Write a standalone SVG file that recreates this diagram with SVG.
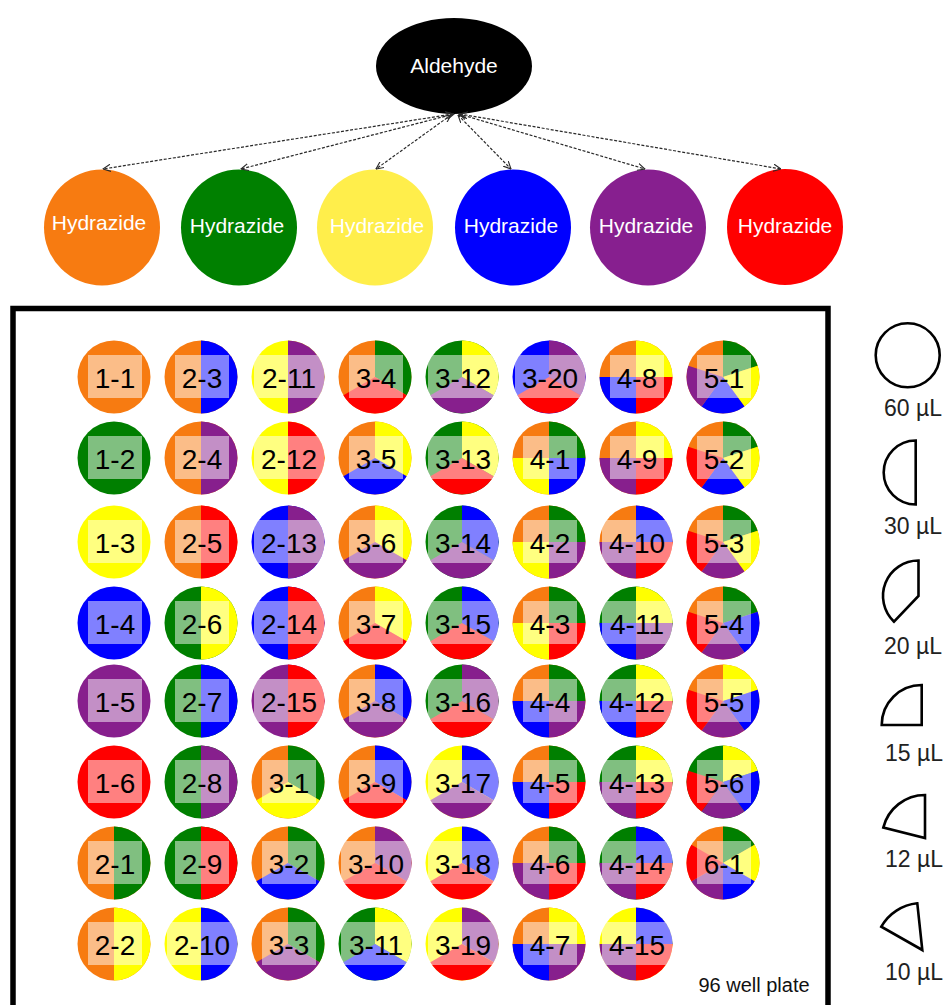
<svg xmlns="http://www.w3.org/2000/svg" xmlns:xlink="http://www.w3.org/1999/xlink" width="949" height="1005" viewBox="0 0 949 1005">
<style>
.O{fill:#F77B11}.G{fill:#007F00}.Y{fill:#FFFF00}.B{fill:#0000FF}.P{fill:#871F8D}.R{fill:#FF0000}
.ov{fill:#FFFFFF;fill-opacity:0.5}
#wells text{font-family:"Liberation Sans",Arial,sans-serif;font-size:28px;text-anchor:middle;fill:#000}
.ht{font-family:"Liberation Sans",Arial,sans-serif;font-size:21px;text-anchor:middle;fill:#FFFFFF}
.lg{fill:#FFFFFF;stroke:#000;stroke-width:2.6;stroke-linejoin:miter}
.lt{font-family:"Liberation Sans",Arial,sans-serif;font-size:23px;text-anchor:middle;fill:#222}
.con{fill:none;stroke:#2a2a2a;stroke-width:1.2;stroke-dasharray:3 1.6}
</style>
<defs>
<marker id="ah" viewBox="0 0 10 10" refX="9.5" refY="5" markerWidth="8" markerHeight="8" markerUnits="userSpaceOnUse" orient="auto-start-reverse">
<path d="M0,0.5 L9.5,5 L0,9.5" fill="none" stroke="#2a2a2a" stroke-width="1.4"/>
</marker>
<circle id="c" r="36.5"/>
<path id="h2" d="M0,0 L0,-36.5 A36.5,36.5 0 0 1 0,36.5 Z"/>
<path id="t2" d="M0,0 L0,-36.5 A36.5,36.5 0 0 1 31.61,18.25 Z"/>
<path id="t3" d="M0,0 L31.61,18.25 A36.5,36.5 0 0 1 -31.61,18.25 Z"/>
<path id="q2" d="M0,0 L0,-36.5 A36.5,36.5 0 0 1 36.5,0 Z"/>
<path id="q3" d="M0,0 L0,36.5 A36.5,36.5 0 0 1 -36.5,0 Z"/>
<path id="q4" d="M0,0 L36.5,0 A36.5,36.5 0 0 1 0,36.5 Z"/>
<path id="f2" d="M0,0 L0,-36.5 A36.5,36.5 0 0 1 34.71,-11.28 Z"/>
<path id="f3" d="M0,0 L34.71,-11.28 A36.5,36.5 0 0 1 21.45,29.53 Z"/>
<path id="f4" d="M0,0 L21.45,29.53 A36.5,36.5 0 0 1 -21.45,29.53 Z"/>
<path id="f5" d="M0,0 L-21.45,29.53 A36.5,36.5 0 0 1 -34.71,-11.28 Z"/>
<path id="x2" d="M0,0 L0,-36.5 A36.5,36.5 0 0 1 31.61,-18.25 Z"/>
<path id="x3" d="M0,0 L31.61,-18.25 A36.5,36.5 0 0 1 31.61,18.25 Z"/>
<path id="x4" d="M0,0 L31.61,18.25 A36.5,36.5 0 0 1 0,36.5 Z"/>
<path id="x5" d="M0,0 L0,36.5 A36.5,36.5 0 0 1 -31.61,18.25 Z"/>
<path id="x6" d="M0,0 L-31.61,18.25 A36.5,36.5 0 0 1 -31.61,-18.25 Z"/>
<rect id="r3" x="-26" y="-22" width="54" height="43"/>
<rect id="r4" x="-34" y="-22" width="70" height="43"/>
</defs>

<rect width="949" height="1005" fill="#FFFFFF"/>

<g id="aldehyde">
<ellipse cx="454" cy="66" rx="78" ry="48" fill="#000"/>
<text x="454" y="73" class="ht">Aldehyde</text>
</g>

<g id="hydrazide-orange"><circle cx="102" cy="227.5" r="58" fill="#F77B11"/><text x="99" y="230" class="ht">Hydrazide</text></g>
<g id="hydrazide-green"><circle cx="239" cy="227.5" r="58" fill="#008000"/><text x="237" y="233" class="ht">Hydrazide</text></g>
<g id="hydrazide-yellow"><circle cx="375" cy="227.5" r="58" fill="#FFEE4B"/><text x="377" y="233" class="ht">Hydrazide</text></g>
<g id="hydrazide-blue"><circle cx="513" cy="227.5" r="58" fill="#0000FF"/><text x="511" y="233" class="ht">Hydrazide</text></g>
<g id="hydrazide-purple"><circle cx="648" cy="227.5" r="58" fill="#871F8F"/><text x="646" y="233" class="ht">Hydrazide</text></g>
<g id="hydrazide-red"><circle cx="785" cy="227" r="58" fill="#FF0000"/><text x="785" y="233" class="ht">Hydrazide</text></g>

<g id="connectors">
<line class="con" x1="453" y1="114" x2="103" y2="169" marker-start="url(#ah)" marker-end="url(#ah)"/>
<line class="con" x1="454" y1="114" x2="241" y2="169" marker-start="url(#ah)" marker-end="url(#ah)"/>
<line class="con" x1="451" y1="115" x2="376" y2="169" marker-start="url(#ah)" marker-end="url(#ah)"/>
<line class="con" x1="458" y1="115" x2="511" y2="169" marker-start="url(#ah)" marker-end="url(#ah)"/>
<line class="con" x1="459" y1="114" x2="645" y2="169" marker-start="url(#ah)" marker-end="url(#ah)"/>
<line class="con" x1="460" y1="114" x2="781" y2="169" marker-start="url(#ah)" marker-end="url(#ah)"/>
</g>

<g id="plate">
<rect x="13" y="308.5" width="815" height="720" fill="none" stroke="#000" stroke-width="5.5"/>
<text x="754" y="992" style="font-family:'Liberation Sans',Arial,sans-serif;font-size:20px;text-anchor:middle;fill:#111">96 well plate</text>
</g>

<g id="wells">
<g id="w1-1" transform="translate(114,377)"><use href="#c" class="O"/><use href="#r3" class="ov"/><text x="1" y="10.5">1-1</text></g>
<g id="w1-2" transform="translate(114,458)"><use href="#c" class="G"/><use href="#r3" class="ov"/><text x="1" y="10.5">1-2</text></g>
<g id="w1-3" transform="translate(114,542)"><use href="#c" class="Y"/><use href="#r3" class="ov"/><text x="1" y="10.5">1-3</text></g>
<g id="w1-4" transform="translate(114,623)"><use href="#c" class="B"/><use href="#r3" class="ov"/><text x="1" y="10.5">1-4</text></g>
<g id="w1-5" transform="translate(114,701)"><use href="#c" class="P"/><use href="#r3" class="ov"/><text x="1" y="10.5">1-5</text></g>
<g id="w1-6" transform="translate(114,782)"><use href="#c" class="R"/><use href="#r3" class="ov"/><text x="1" y="10.5">1-6</text></g>
<g id="w2-1" transform="translate(114,863)"><use href="#c" class="O"/><use href="#h2" class="G"/><use href="#r3" class="ov"/><text x="1" y="10.5">2-1</text></g>
<g id="w2-2" transform="translate(114,944)"><use href="#c" class="O"/><use href="#h2" class="Y"/><use href="#r3" class="ov"/><text x="1" y="10.5">2-2</text></g>

<g id="w2-3" transform="translate(201,377)"><use href="#c" class="O"/><use href="#h2" class="B"/><use href="#r3" class="ov"/><text x="1" y="10.5">2-3</text></g>
<g id="w2-4" transform="translate(201,458)"><use href="#c" class="O"/><use href="#h2" class="P"/><use href="#r3" class="ov"/><text x="1" y="10.5">2-4</text></g>
<g id="w2-5" transform="translate(201,542)"><use href="#c" class="O"/><use href="#h2" class="R"/><use href="#r3" class="ov"/><text x="1" y="10.5">2-5</text></g>
<g id="w2-6" transform="translate(201,623)"><use href="#c" class="G"/><use href="#h2" class="Y"/><use href="#r3" class="ov"/><text x="1" y="10.5">2-6</text></g>
<g id="w2-7" transform="translate(201,701)"><use href="#c" class="G"/><use href="#h2" class="B"/><use href="#r3" class="ov"/><text x="1" y="10.5">2-7</text></g>
<g id="w2-8" transform="translate(201,782)"><use href="#c" class="G"/><use href="#h2" class="P"/><use href="#r3" class="ov"/><text x="1" y="10.5">2-8</text></g>
<g id="w2-9" transform="translate(201,863)"><use href="#c" class="G"/><use href="#h2" class="R"/><use href="#r3" class="ov"/><text x="1" y="10.5">2-9</text></g>
<g id="w2-10" transform="translate(201,944)"><use href="#c" class="Y"/><use href="#h2" class="B"/><use href="#r4" class="ov"/><text x="1" y="10.5">2-10</text></g>

<g id="w2-11" transform="translate(288,377)"><use href="#c" class="Y"/><use href="#h2" class="P"/><use href="#r4" class="ov"/><text x="1" y="10.5">2-11</text></g>
<g id="w2-12" transform="translate(288,458)"><use href="#c" class="Y"/><use href="#h2" class="R"/><use href="#r4" class="ov"/><text x="1" y="10.5">2-12</text></g>
<g id="w2-13" transform="translate(288,542)"><use href="#c" class="B"/><use href="#h2" class="P"/><use href="#r4" class="ov"/><text x="1" y="10.5">2-13</text></g>
<g id="w2-14" transform="translate(288,623)"><use href="#c" class="B"/><use href="#h2" class="R"/><use href="#r4" class="ov"/><text x="1" y="10.5">2-14</text></g>
<g id="w2-15" transform="translate(288,701)"><use href="#c" class="P"/><use href="#h2" class="R"/><use href="#r4" class="ov"/><text x="1" y="10.5">2-15</text></g>
<g id="w3-1" transform="translate(288,782)"><use href="#c" class="O"/><use href="#t2" class="G"/><use href="#t3" class="Y"/><use href="#r3" class="ov"/><text x="1" y="10.5">3-1</text></g>
<g id="w3-2" transform="translate(288,863)"><use href="#c" class="O"/><use href="#t2" class="G"/><use href="#t3" class="B"/><use href="#r3" class="ov"/><text x="1" y="10.5">3-2</text></g>
<g id="w3-3" transform="translate(288,944)"><use href="#c" class="O"/><use href="#t2" class="G"/><use href="#t3" class="P"/><use href="#r3" class="ov"/><text x="1" y="10.5">3-3</text></g>

<g id="w3-4" transform="translate(375,377)"><use href="#c" class="O"/><use href="#t2" class="G"/><use href="#t3" class="R"/><use href="#r3" class="ov"/><text x="1" y="10.5">3-4</text></g>
<g id="w3-5" transform="translate(375,458)"><use href="#c" class="O"/><use href="#t2" class="Y"/><use href="#t3" class="B"/><use href="#r3" class="ov"/><text x="1" y="10.5">3-5</text></g>
<g id="w3-6" transform="translate(375,542)"><use href="#c" class="O"/><use href="#t2" class="Y"/><use href="#t3" class="P"/><use href="#r3" class="ov"/><text x="1" y="10.5">3-6</text></g>
<g id="w3-7" transform="translate(375,623)"><use href="#c" class="O"/><use href="#t2" class="Y"/><use href="#t3" class="R"/><use href="#r3" class="ov"/><text x="1" y="10.5">3-7</text></g>
<g id="w3-8" transform="translate(375,701)"><use href="#c" class="O"/><use href="#t2" class="B"/><use href="#t3" class="P"/><use href="#r3" class="ov"/><text x="1" y="10.5">3-8</text></g>
<g id="w3-9" transform="translate(375,782)"><use href="#c" class="O"/><use href="#t2" class="B"/><use href="#t3" class="R"/><use href="#r3" class="ov"/><text x="1" y="10.5">3-9</text></g>
<g id="w3-10" transform="translate(375,863)"><use href="#c" class="O"/><use href="#t2" class="P"/><use href="#t3" class="R"/><use href="#r4" class="ov"/><text x="1" y="10.5">3-10</text></g>
<g id="w3-11" transform="translate(375,944)"><use href="#c" class="G"/><use href="#t2" class="Y"/><use href="#t3" class="B"/><use href="#r4" class="ov"/><text x="1" y="10.5">3-11</text></g>

<g id="w3-12" transform="translate(462,377)"><use href="#c" class="G"/><use href="#t2" class="Y"/><use href="#t3" class="P"/><use href="#r4" class="ov"/><text x="1" y="10.5">3-12</text></g>
<g id="w3-13" transform="translate(462,458)"><use href="#c" class="G"/><use href="#t2" class="Y"/><use href="#t3" class="R"/><use href="#r4" class="ov"/><text x="1" y="10.5">3-13</text></g>
<g id="w3-14" transform="translate(462,542)"><use href="#c" class="G"/><use href="#t2" class="B"/><use href="#t3" class="P"/><use href="#r4" class="ov"/><text x="1" y="10.5">3-14</text></g>
<g id="w3-15" transform="translate(462,623)"><use href="#c" class="G"/><use href="#t2" class="B"/><use href="#t3" class="R"/><use href="#r4" class="ov"/><text x="1" y="10.5">3-15</text></g>
<g id="w3-16" transform="translate(462,701)"><use href="#c" class="G"/><use href="#t2" class="P"/><use href="#t3" class="R"/><use href="#r4" class="ov"/><text x="1" y="10.5">3-16</text></g>
<g id="w3-17" transform="translate(462,782)"><use href="#c" class="Y"/><use href="#t2" class="B"/><use href="#t3" class="P"/><use href="#r4" class="ov"/><text x="1" y="10.5">3-17</text></g>
<g id="w3-18" transform="translate(462,863)"><use href="#c" class="Y"/><use href="#t2" class="B"/><use href="#t3" class="R"/><use href="#r4" class="ov"/><text x="1" y="10.5">3-18</text></g>
<g id="w3-19" transform="translate(462,944)"><use href="#c" class="Y"/><use href="#t2" class="P"/><use href="#t3" class="R"/><use href="#r4" class="ov"/><text x="1" y="10.5">3-19</text></g>

<g id="w3-20" transform="translate(549,377)"><use href="#c" class="B"/><use href="#t2" class="P"/><use href="#t3" class="R"/><use href="#r4" class="ov"/><text x="1" y="10.5">3-20</text></g>
<g id="w4-1" transform="translate(549,458)"><use href="#c" class="O"/><use href="#q2" class="G"/><use href="#q3" class="Y"/><use href="#q4" class="B"/><use href="#r3" class="ov"/><text x="1" y="10.5">4-1</text></g>
<g id="w4-2" transform="translate(549,542)"><use href="#c" class="O"/><use href="#q2" class="G"/><use href="#q3" class="Y"/><use href="#q4" class="P"/><use href="#r3" class="ov"/><text x="1" y="10.5">4-2</text></g>
<g id="w4-3" transform="translate(549,623)"><use href="#c" class="O"/><use href="#q2" class="G"/><use href="#q3" class="Y"/><use href="#q4" class="R"/><use href="#r3" class="ov"/><text x="1" y="10.5">4-3</text></g>
<g id="w4-4" transform="translate(549,701)"><use href="#c" class="O"/><use href="#q2" class="G"/><use href="#q3" class="B"/><use href="#q4" class="P"/><use href="#r3" class="ov"/><text x="1" y="10.5">4-4</text></g>
<g id="w4-5" transform="translate(549,782)"><use href="#c" class="O"/><use href="#q2" class="G"/><use href="#q3" class="B"/><use href="#q4" class="R"/><use href="#r3" class="ov"/><text x="1" y="10.5">4-5</text></g>
<g id="w4-6" transform="translate(549,863)"><use href="#c" class="O"/><use href="#q2" class="G"/><use href="#q3" class="P"/><use href="#q4" class="R"/><use href="#r3" class="ov"/><text x="1" y="10.5">4-6</text></g>
<g id="w4-7" transform="translate(549,944)"><use href="#c" class="O"/><use href="#q2" class="Y"/><use href="#q3" class="B"/><use href="#q4" class="P"/><use href="#r3" class="ov"/><text x="1" y="10.5">4-7</text></g>

<g id="w4-8" transform="translate(636,377)"><use href="#c" class="O"/><use href="#q2" class="Y"/><use href="#q3" class="B"/><use href="#q4" class="R"/><use href="#r3" class="ov"/><text x="1" y="10.5">4-8</text></g>
<g id="w4-9" transform="translate(636,458)"><use href="#c" class="O"/><use href="#q2" class="Y"/><use href="#q3" class="P"/><use href="#q4" class="R"/><use href="#r3" class="ov"/><text x="1" y="10.5">4-9</text></g>
<g id="w4-10" transform="translate(636,542)"><use href="#c" class="O"/><use href="#q2" class="B"/><use href="#q3" class="P"/><use href="#q4" class="R"/><use href="#r4" class="ov"/><text x="1" y="10.5">4-10</text></g>
<g id="w4-11" transform="translate(636,623)"><use href="#c" class="G"/><use href="#q2" class="Y"/><use href="#q3" class="B"/><use href="#q4" class="P"/><use href="#r4" class="ov"/><text x="1" y="10.5">4-11</text></g>
<g id="w4-12" transform="translate(636,701)"><use href="#c" class="G"/><use href="#q2" class="Y"/><use href="#q3" class="B"/><use href="#q4" class="R"/><use href="#r4" class="ov"/><text x="1" y="10.5">4-12</text></g>
<g id="w4-13" transform="translate(636,782)"><use href="#c" class="G"/><use href="#q2" class="Y"/><use href="#q3" class="P"/><use href="#q4" class="R"/><use href="#r4" class="ov"/><text x="1" y="10.5">4-13</text></g>
<g id="w4-14" transform="translate(636,863)"><use href="#c" class="G"/><use href="#q2" class="B"/><use href="#q3" class="P"/><use href="#q4" class="R"/><use href="#r4" class="ov"/><text x="1" y="10.5">4-14</text></g>
<g id="w4-15" transform="translate(636,944)"><use href="#c" class="Y"/><use href="#q2" class="B"/><use href="#q3" class="P"/><use href="#q4" class="R"/><use href="#r4" class="ov"/><text x="1" y="10.5">4-15</text></g>

<g id="w5-1" transform="translate(723,377)"><use href="#c" class="O"/><use href="#f2" class="G"/><use href="#f3" class="Y"/><use href="#f4" class="B"/><use href="#f5" class="P"/><use href="#r3" class="ov"/><text x="1" y="10.5">5-1</text></g>
<g id="w5-2" transform="translate(723,458)"><use href="#c" class="O"/><use href="#f2" class="G"/><use href="#f3" class="Y"/><use href="#f4" class="B"/><use href="#f5" class="R"/><use href="#r3" class="ov"/><text x="1" y="10.5">5-2</text></g>
<g id="w5-3" transform="translate(723,542)"><use href="#c" class="O"/><use href="#f2" class="G"/><use href="#f3" class="Y"/><use href="#f4" class="P"/><use href="#f5" class="R"/><use href="#r3" class="ov"/><text x="1" y="10.5">5-3</text></g>
<g id="w5-4" transform="translate(723,623)"><use href="#c" class="O"/><use href="#f2" class="G"/><use href="#f3" class="B"/><use href="#f4" class="P"/><use href="#f5" class="R"/><use href="#r3" class="ov"/><text x="1" y="10.5">5-4</text></g>
<g id="w5-5" transform="translate(723,701)"><use href="#c" class="O"/><use href="#f2" class="Y"/><use href="#f3" class="B"/><use href="#f4" class="P"/><use href="#f5" class="R"/><use href="#r3" class="ov"/><text x="1" y="10.5">5-5</text></g>
<g id="w5-6" transform="translate(723,782)"><use href="#c" class="G"/><use href="#f2" class="Y"/><use href="#f3" class="B"/><use href="#f4" class="P"/><use href="#f5" class="R"/><use href="#r3" class="ov"/><text x="1" y="10.5">5-6</text></g>
<g id="w6-1" transform="translate(723,863)"><use href="#c" class="O"/><use href="#x2" class="G"/><use href="#x3" class="Y"/><use href="#x4" class="B"/><use href="#x5" class="P"/><use href="#x6" class="R"/><use href="#r3" class="ov"/><text x="1" y="10.5">6-1</text></g>
</g>

<g id="legend">
<g id="leg-60"><circle class="lg" cx="907.7" cy="355.3" r="32"/><text class="lt" x="913" y="416">60 µL</text></g>
<g id="leg-30"><path class="lg" d="M915.7,440.5 A32,32 0 0 0 915.7,504.5 Z"/><text class="lt" x="913" y="534">30 µL</text></g>
<g id="leg-20"><path class="lg" d="M918.5,596 L918.5,560.5 A35.5,35.5 0 0 0 894,621.7 Z"/><text class="lt" x="913" y="654">20 µL</text></g>
<g id="leg-15"><path class="lg" d="M921.7,725 L921.7,685 A40,40 0 0 0 881.7,725 Z"/><text class="lt" x="914" y="761">15 µL</text></g>
<g id="leg-12"><path class="lg" d="M925,838 L925,795 A43,43 0 0 0 883.3,827.6 Z"/><text class="lt" x="914" y="867">12 µL</text></g>
<g id="leg-10"><path class="lg" d="M922.3,950 L917.3,903.3 A47,47 0 0 0 881.3,926.7 Z"/><text class="lt" x="914" y="980">10 µL</text></g>
</g>
</svg>
